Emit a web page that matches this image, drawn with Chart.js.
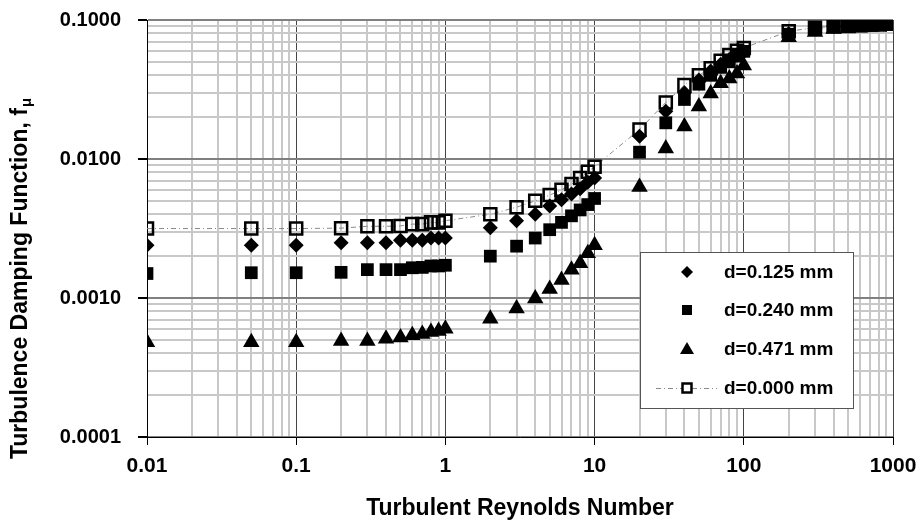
<!DOCTYPE html>
<html>
<head>
<meta charset="utf-8">
<script src="https://cdn.jsdelivr.net/npm/chart.js@4.4.1/dist/chart.umd.min.js"></script>
<style>
  html, body { margin: 0; padding: 0; background: #fff; }
  #wrap { width: 921px; height: 521px; }
</style>
</head>
<body>
<div id="wrap"><canvas id="c" width="921" height="521"></canvas></div>
<script>
// data
const RE_T = [0.01, 0.05, 0.1, 0.2, 0.3, 0.4, 0.5, 0.6, 0.7, 0.8, 0.9, 1,
  2, 3, 4, 5, 6, 7, 8, 9, 10, 20, 30, 40, 50, 60, 70, 80, 90, 100,
  200, 300, 400, 500, 600, 700, 800, 900, 1000];

const F_0125 = [0.0024, 0.0024, 0.0024, 0.0025, 0.0025, 0.0025, 0.0026, 0.0026, 0.0026, 0.0027, 0.0027, 0.0027,
  0.0032, 0.0036, 0.0040, 0.0046, 0.0051, 0.0056, 0.0061, 0.0068, 0.0073, 0.0146, 0.0221, 0.030, 0.037, 0.043, 0.048, 0.052, 0.056, 0.059,
  0.080, 0.087, 0.090, 0.091, 0.092, 0.092, 0.093, 0.093, 0.094];

const F_0240 = [0.0015, 0.00152, 0.00152, 0.00153, 0.0016, 0.0016, 0.0016, 0.00165, 0.00166, 0.0017, 0.0017, 0.00172,
  0.0020, 0.00236, 0.0027, 0.0031, 0.0035, 0.0039, 0.0043, 0.0047, 0.0052, 0.0112, 0.0182, 0.0268, 0.0345, 0.040, 0.0456, 0.050, 0.055, 0.0595,
  0.079, 0.087, 0.090, 0.091, 0.092, 0.092, 0.093, 0.093, 0.094];

const F_0471 = [0.00048, 0.00048, 0.00048, 0.00049, 0.00049, 0.00051, 0.00052, 0.00054, 0.00055, 0.00057, 0.00058, 0.0006,
  0.00071, 0.00084, 0.00099, 0.00116, 0.00135, 0.0016, 0.00178, 0.0021, 0.0024, 0.0063, 0.0119, 0.0171, 0.0239, 0.0296, 0.035, 0.038, 0.0413, 0.047,
  0.075, 0.082, 0.086, 0.087, 0.088, 0.089, 0.089, 0.090, 0.090];

const F_0000 = [0.00316, 0.00316, 0.00316, 0.00318, 0.00328, 0.00328, 0.0033, 0.0034, 0.0034, 0.0035, 0.0035, 0.0036,
  0.0040, 0.0045, 0.0050, 0.0055, 0.0060, 0.0066, 0.0073, 0.0081, 0.0088, 0.0163, 0.0255, 0.034, 0.040, 0.045, 0.051, 0.056, 0.060, 0.063,
  0.083, 0.088, 0.090, 0.091, 0.092, 0.093, 0.094, 0.094, 0.095];

const LABELS = ['d=0.125 mm', 'd=0.240 mm', 'd=0.471 mm', 'd=0.000 mm'];
const X_TICK_LABELS = ['0.01', '0.1', '1', '10', '100', '1000'];
const Y_TICK_LABELS = ['0.0001', '0.0010', '0.0100', '0.1000'];

const FONT = "Arial, 'Liberation Sans', sans-serif";
const pts = (ys) => RE_T.map((x, i) => ({ x, y: ys[i] }));
const isMajor = (v) => Math.abs(Math.log10(v) - Math.round(Math.log10(v))) < 1e-6;

// 1..9 x 10^e ticks, decade labels only
function logTicks(e0, e1) {
  const out = [];
  for (let e = e0; e < e1; e++) {
    for (let m = 1; m <= 9; m++) out.push(Number((m * Math.pow(10, e)).toPrecision(6)));
  }
  out.push(Math.pow(10, e1));
  return out.map((value) => ({ value, major: isMajor(value) }));
}

// legend box inside the plot
const legendBox = {
  id: 'legendBox',
  afterDraw(chart) {
    const ctx = chart.ctx;
    ctx.save();
    ctx.fillStyle = '#fff';
    ctx.strokeStyle = '#555';
    ctx.lineWidth = 1;
    ctx.fillRect(640.5, 252.5, 213, 156);
    ctx.strokeRect(640.5, 252.5, 213, 156);
    const rows = [272, 310, 349, 388];
    const mx = 687;
    ctx.fillStyle = '#000';
    ctx.font = 'bold 19px ' + FONT;
    ctx.textBaseline = 'middle';
    ctx.textAlign = 'left';
    LABELS.forEach((t, i) => ctx.fillText(t, 724, rows[i] + 1));
    // markers
    let y = rows[0];
    ctx.beginPath();
    ctx.moveTo(mx, y - 6); ctx.lineTo(mx + 6, y); ctx.lineTo(mx, y + 6); ctx.lineTo(mx - 6, y);
    ctx.closePath(); ctx.fill();
    y = rows[1];
    ctx.fillRect(mx - 5, y - 5, 10, 10);
    y = rows[2];
    ctx.beginPath();
    ctx.moveTo(mx, y - 7); ctx.lineTo(mx + 7, y + 5); ctx.lineTo(mx - 7, y + 5);
    ctx.closePath(); ctx.fill();
    y = rows[3];
    ctx.strokeStyle = '#888';
    ctx.setLineDash([5, 3, 1, 3]);
    ctx.beginPath(); ctx.moveTo(656, y + 0.5); ctx.lineTo(717, y + 0.5); ctx.stroke();
    ctx.setLineDash([]);
    ctx.strokeStyle = '#000';
    ctx.lineWidth = 2.5;
    ctx.fillStyle = '#fff';
    ctx.fillRect(mx - 5, y - 5, 10, 10);
    ctx.strokeRect(mx - 4.5, y - 4.5, 9, 9);
    ctx.restore();
  },
};

// rotated y title with subscript mu
const yTitle = {
  id: 'yTitle',
  afterDraw(chart) {
    const ctx = chart.ctx;
    ctx.save();
    ctx.translate(27, 279);
    ctx.rotate(-Math.PI / 2);
    ctx.fillStyle = '#000';
    ctx.textBaseline = 'alphabetic';
    ctx.textAlign = 'left';
    const main = 'Turbulence Damping Function, f';
    const sub = 'μ';
    ctx.font = 'bold 23px ' + FONT;
    const w1 = ctx.measureText(main).width;
    ctx.font = 'bold 15px ' + FONT;
    const w2 = ctx.measureText(sub).width;
    const x0 = -(w1 + w2) / 2;
    ctx.font = 'bold 23px ' + FONT;
    ctx.fillText(main, x0, 0);
    ctx.font = 'bold 15px ' + FONT;
    ctx.fillText(sub, x0 + w1 + 1, 4);
    ctx.restore();
  },
};

new Chart(document.getElementById('c'), {
  type: 'scatter',
  data: {
    datasets: [
      { label: LABELS[0], data: pts(F_0125), pointStyle: 'rectRot', pointRadius: 7.5, backgroundColor: '#000', borderColor: '#000', borderWidth: 0, showLine: false },
      { label: LABELS[1], data: pts(F_0240), pointStyle: 'rect', pointRadius: 9, backgroundColor: '#000', borderColor: '#000', borderWidth: 0, showLine: false },
      { label: LABELS[2], data: pts(F_0471), pointStyle: 'triangle', pointRadius: 9.5, backgroundColor: '#000', borderColor: '#000', borderWidth: 0, showLine: false },
      { label: LABELS[3], data: pts(F_0000), pointStyle: 'rect', pointRadius: 8.5, backgroundColor: 'rgba(0,0,0,0)', pointBorderColor: '#000', pointBorderWidth: 2.5,
        showLine: true, borderColor: '#8a8a8a', borderWidth: 1, borderDash: [5, 3, 1, 3] },
    ],
  },
  options: {
    responsive: false,
    animation: false,
    layout: { padding: { top: 20, right: 28, left: 0, bottom: 0 } },
    plugins: { legend: { display: false }, tooltip: { enabled: false } },
    scales: {
      x: {
        type: 'logarithmic', min: 0.01, max: 1000,
        afterBuildTicks: (s) => { s.ticks = logTicks(-2, 3); },
        afterFit: (s) => { s.height = 84; s.paddingLeft = 0; s.paddingRight = 0; },
        ticks: {
          autoSkip: false, maxRotation: 0, padding: 9, color: '#000',
          font: { family: FONT, size: 21, weight: 'bold' },
          callback: (v) => isMajor(v) ? X_TICK_LABELS[Math.round(Math.log10(v)) + 2] : '',
        },
        grid: {
          color: (c) => isMajor(c.tick.value) ? '#444' : '#c8c8c8',
          lineWidth: (c) => isMajor(c.tick.value) ? 1 : 2,
          tickColor: (c) => isMajor(c.tick.value) ? '#000' : 'rgba(0,0,0,0)',
          tickLength: 8,
        },
        border: { color: '#000', width: 1 },
        title: {
          display: true, text: 'Turbulent Reynolds Number', color: '#000',
          font: { family: FONT, size: 23, weight: 'bold' }, padding: { top: 0, bottom: -1 },
        },
      },
      y: {
        type: 'logarithmic', min: 0.0001, max: 0.1,
        afterBuildTicks: (s) => { s.ticks = logTicks(-4, -1); },
        afterFit: (s) => { s.width = 147; s.paddingTop = 0; s.paddingBottom = 0; },
        ticks: {
          autoSkip: false, padding: 17, color: '#000',
          font: { family: FONT, size: 20, weight: 'bold' },
          callback: (v) => isMajor(v) ? Y_TICK_LABELS[Math.round(Math.log10(v)) + 4] : '',
        },
        grid: {
          color: (c) => isMajor(c.tick.value) ? '#808080' : '#c8c8c8',
          lineWidth: 2,
          tickColor: (c) => isMajor(c.tick.value) ? '#000' : 'rgba(0,0,0,0)',
          tickLength: 9,
        },
        border: { color: '#000', width: 1 },
      },
    },
  },
  plugins: [yTitle, legendBox],
});
</script>
</body>
</html>
